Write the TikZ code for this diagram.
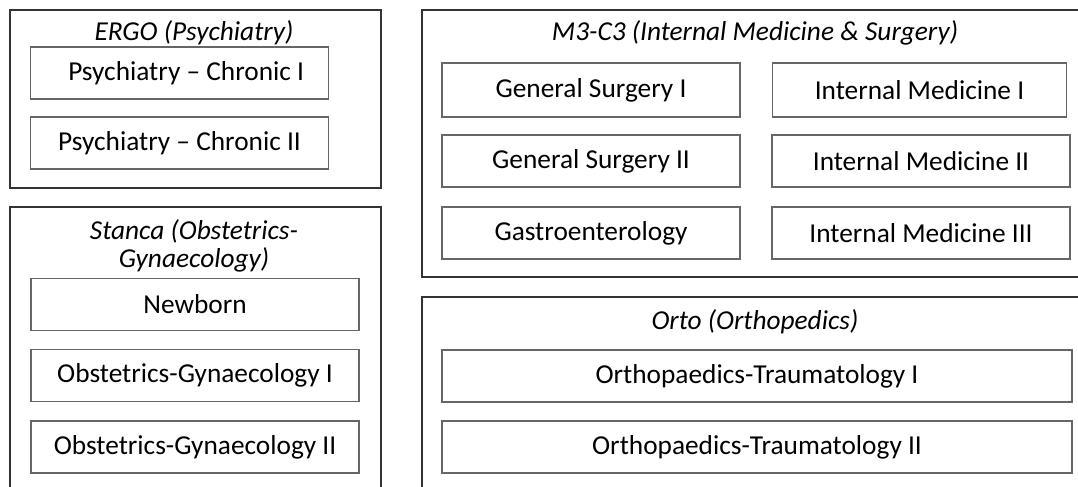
\documentclass[tikz,border=0pt]{standalone}
\usepackage{fontspec}
\setmainfont{Carlito}
\usepackage{tikz}

\begin{document}
\begin{tikzpicture}[x=0.75pt, y=-0.75pt,
	every node/.style={font=\fontsize{20.5}{21}\selectfont, text=black},
	group/.style={draw=black!80, line width=1.6pt},
	unit/.style={draw=black!60, line width=0.9pt, minimum height=39pt, inner sep=0pt},
	heading/.style={font=\fontsize{20.5}{21}\selectfont\itshape, align=center}]
	\useasboundingbox (0,0) rectangle (1078,486);
	\clip (0,0) rectangle (1078,486);
	% wards
	\draw[group] (10,10) rectangle (381,188);
	\draw[group] (10,207) rectangle (381,520);
	\draw[group] (422,10) rectangle (1100,277);
	\draw[group] (422,297) rectangle (1100,520);
	\node[heading] (ergo) at (194,33) {ERGO (Psychiatry)};
	\node[heading] (stanca) at (194,246) {Stanca (Obstetrics-\\Gynaecology)};
	\node[heading] (m3c3) at (755,33) {M3-C3 (Internal Medicine \& Surgery)};
	\node[heading] (orto) at (755,322) {Orto (Orthopedics)};
	% units
	\node[unit, minimum width=223pt] (psychI) at (179.5,73) {\hspace{10pt}Psychiatry -- Chronic I};
	\node[unit, minimum width=223pt] (psychII) at (179.5,143) {Psychiatry -- Chronic II\hspace{6pt}};
	\node[unit, minimum width=246pt] (newborn) at (195,304.5) {Newborn};
	\node[unit, minimum width=246pt] (obgynI) at (195,375.5) {Obstetrics-Gynaecology I};
	\node[unit, minimum width=246pt] (obgynII) at (195,447) {Obstetrics-Gynaecology II};
	\node[unit, minimum width=223.5pt, minimum height=40.5pt] (gsurgI) at (591,90) {General Surgery I};
	\node[unit, minimum width=223.5pt] (gsurgII) at (591,161) {General Surgery II};
	\node[unit, minimum width=223.5pt] (gastro) at (591,233) {Gastroenterology};
	\node[unit, minimum width=221pt, minimum height=40.5pt] (intmedI) at (919.5,90) {Internal Medicine I};
	\node[unit, minimum width=223.5pt] (intmedII) at (921,161) {Internal Medicine II};
	\node[unit, minimum width=223.5pt] (intmedIII) at (921,233) {Internal Medicine III};
	\node[unit, minimum width=472.5pt] (orthoI) at (757,376) {Orthopaedics-Traumatology I};
	\node[unit, minimum width=472.5pt] (orthoII) at (757,447) {Orthopaedics-Traumatology II};
\end{tikzpicture}
\end{document}
